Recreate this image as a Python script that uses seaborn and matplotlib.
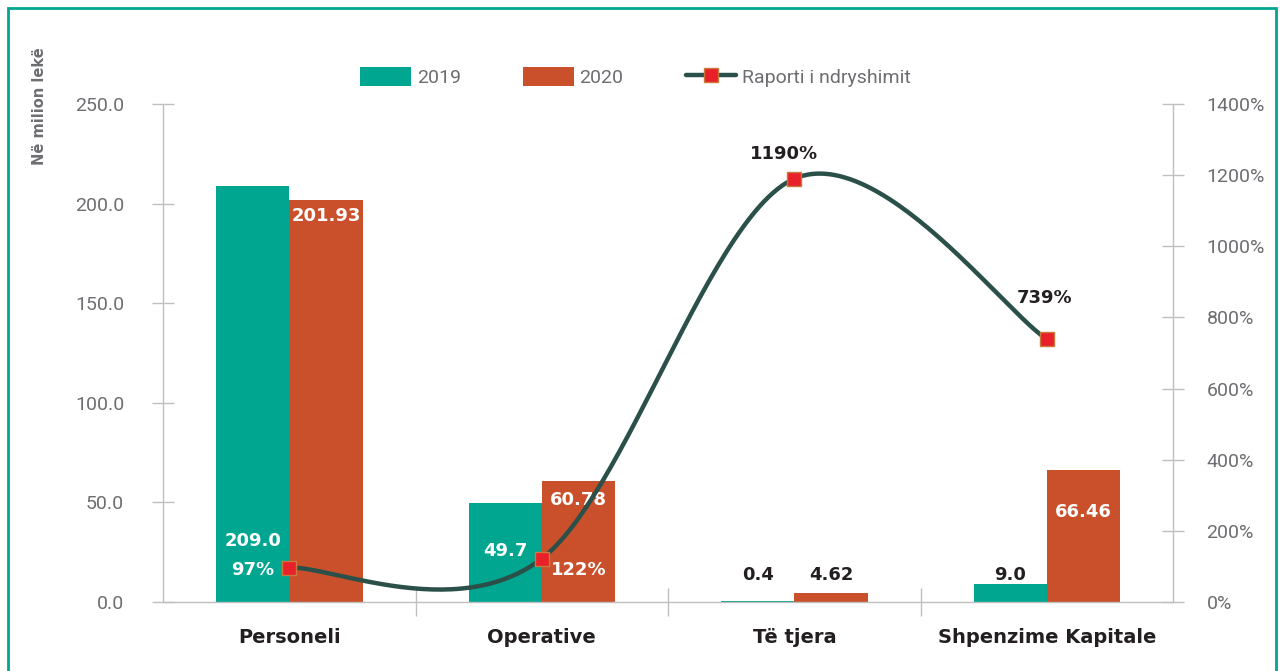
import numpy as np
import pandas as pd
import seaborn as sns
import matplotlib.pyplot as plt
from matplotlib.patches import Patch, Rectangle
from matplotlib.lines import Line2D

# Chart data
categories = ['Personeli', 'Operative', 'Të tjera', 'Shpenzime Kapitale']
years = ['2019', '2020']
values_2019 = [209.0, 49.7, 0.4, 9.0]
values_2020 = [201.93, 60.78, 4.62, 66.46]
change_pct = [97, 122, 1190, 739]

labels_2019 = ['209.0', '49.7', '0.4', '9.0']
labels_2020 = ['201.93', '60.78', '4.62', '66.46']
labels_pct = ['97%', '122%', '1190%', '739%']

TEAL = '#00A690'
ORANGE = '#C9502A'
LINE = '#2B5049'
RED = '#E8202A'
GREY = '#6D6E71'
DARK = '#231F20'
AXIS = '#BFBFBF'

sns.set_theme(style='white')
plt.rcParams['font.family'] = ['DejaVu Sans']
COND = ['Roboto', 'DejaVu Sans']


# Catmull-Rom smoothing for the change line (like Excel's smoothed line)
def smooth_curve(xs, ys, n=60):
    xs = np.asarray(xs, float)
    ys = np.asarray(ys, float)
    px = np.concatenate([[xs[0]], xs, [xs[-1]]])
    py = np.concatenate([[ys[0]], ys, [ys[-1]]])
    out_x, out_y = [], []
    for i in range(1, len(px) - 2):
        t = np.linspace(0, 1, n)
        h00 = 2 * t**3 - 3 * t**2 + 1
        h10 = t**3 - 2 * t**2 + t
        h01 = -2 * t**3 + 3 * t**2
        h11 = t**3 - t**2
        mx0 = (px[i + 1] - px[i - 1]) / 2
        mx1 = (px[i + 2] - px[i]) / 2
        my0 = (py[i + 1] - py[i - 1]) / 2
        my1 = (py[i + 2] - py[i]) / 2
        out_x.append(h00 * px[i] + h10 * mx0 + h01 * px[i + 1] + h11 * mx1)
        out_y.append(h00 * py[i] + h10 * my0 + h01 * py[i + 1] + h11 * my1)
    return np.concatenate(out_x), np.concatenate(out_y)


df = pd.DataFrame({
    'Kategoria': categories * 2,
    'Viti': [years[0]] * 4 + [years[1]] * 4,
    'Vlera': values_2019 + values_2020,
})

fig = plt.figure(figsize=(12.84, 6.71), dpi=100)
ax = fig.add_axes([0.127, 0.1028, 0.7866, 0.7422])

sns.barplot(data=df, x='Kategoria', y='Vlera', hue='Viti', order=categories,
            hue_order=years, palette=[TEAL, ORANGE], width=0.58, ax=ax,
            saturation=1, legend=False, edgecolor='none')

ax.set_xlim(-0.5, 3.5)
ax.set_ylim(0, 250)
ax.set_yticks(np.arange(0, 251, 50))
ax.set_yticklabels([f'{v:.1f}' for v in np.arange(0, 251, 50)],
                   family=COND, fontsize=14, color=GREY)
ax.set_xticks(range(4))
ax.set_xticklabels(categories, fontsize=14, fontweight='bold', color=DARK)
ax.set_xticks([0.5, 1.5, 2.5], minor=True)
ax.tick_params(axis='x', which='major', length=0, pad=19)
ax.tick_params(axis='x', which='minor', direction='inout', length=20,
               width=1, color=AXIS, bottom=True)
ax.tick_params(axis='y', direction='inout', length=16, width=1,
               color=AXIS, pad=20, left=True)
ax.set_xlabel('')
ax.set_ylabel('')
for side in ['top', 'right']:
    ax.spines[side].set_visible(False)
for side in ['left', 'bottom']:
    ax.spines[side].set_color(AXIS)
    ax.spines[side].set_linewidth(1)

# secondary axis with the change ratio
ax2 = ax.twinx()
cx, cy = smooth_curve(range(4), change_pct)
sns.lineplot(x=cx, y=cy, ax=ax2, color=LINE, linewidth=3.2, sort=False)
sns.scatterplot(x=range(4), y=change_pct, ax=ax2, marker='s', s=110,
                color=RED, edgecolor='#C97A3A', linewidth=1, zorder=5)
ax2.set_ylim(0, 1400)
ax2.set_yticks(np.arange(0, 1401, 200))
ax2.set_yticklabels([f'{v:.0f}%' for v in np.arange(0, 1401, 200)],
                    family=COND, fontsize=14, color=GREY)
ax2.tick_params(axis='y', direction='inout', length=16, width=1,
                color=AXIS, pad=16, right=True)
for side in ['top', 'left', 'bottom']:
    ax2.spines[side].set_visible(False)
ax2.spines['right'].set_color(AXIS)
ax2.spines['right'].set_linewidth(1)

# data labels
off = 0.145
bold = dict(fontsize=13, fontweight='bold', ha='center', va='center')
ax.text(0 - off, 30.5, labels_2019[0], color='white', **bold)
ax.text(1 - off, 25.5, labels_2019[1], color='white', **bold)
ax.text(2 - off, 13.5, labels_2019[2], color=DARK, **bold)
ax.text(3 - off, 13.5, labels_2019[3], color=DARK, **bold)
ax.text(0 + off, 194.0, labels_2020[0], color='white', **bold)
ax.text(1 + off, 51.0, labels_2020[1], color='white', **bold)
ax.text(2 + off, 13.5, labels_2020[2], color=DARK, **bold)
ax.text(3 + off, 45.0, labels_2020[3], color='white', **bold)
ax.text(0 - off, 16.0, labels_pct[0], color='white', **bold)
ax.text(1 + off, 16.0, labels_pct[1], color='white', **bold)
ax2.text(2 - 0.04, 1260, labels_pct[2], color=DARK, **bold)
ax2.text(3 - 0.01, 855, labels_pct[3], color=DARK, **bold)

# y-axis title
fig.text(0.031, 0.93, 'Në milion lekë', rotation=90, va='top', ha='center',
         fontsize=10.5, fontweight='bold', color=GREY)

# legend
handles = [
    Patch(facecolor=TEAL, edgecolor='none'),
    Patch(facecolor=ORANGE, edgecolor='none'),
    Line2D([0], [0], color=LINE, linewidth=3.2, marker='s', markersize=10,
           markerfacecolor=RED, markeredgecolor='#C97A3A'),
]
fig.legend(handles, ['2019', '2020', 'Raporti i ndryshimit'], ncol=3,
           loc='center', bbox_to_anchor=(0.495, 0.885), frameon=False,
           prop={'family': COND, 'size': 14}, labelcolor=GREY,
           handlelength=2.6, handleheight=1.15, handletextpad=0.3,
           columnspacing=3.2)

# outer teal frame
fig.patches.append(Rectangle((0.006, -0.02), 0.988, 1.008,
                             transform=fig.transFigure, fill=False,
                             edgecolor=TEAL, linewidth=2))

fig.savefig('out.png', dpi=100, facecolor='white')
